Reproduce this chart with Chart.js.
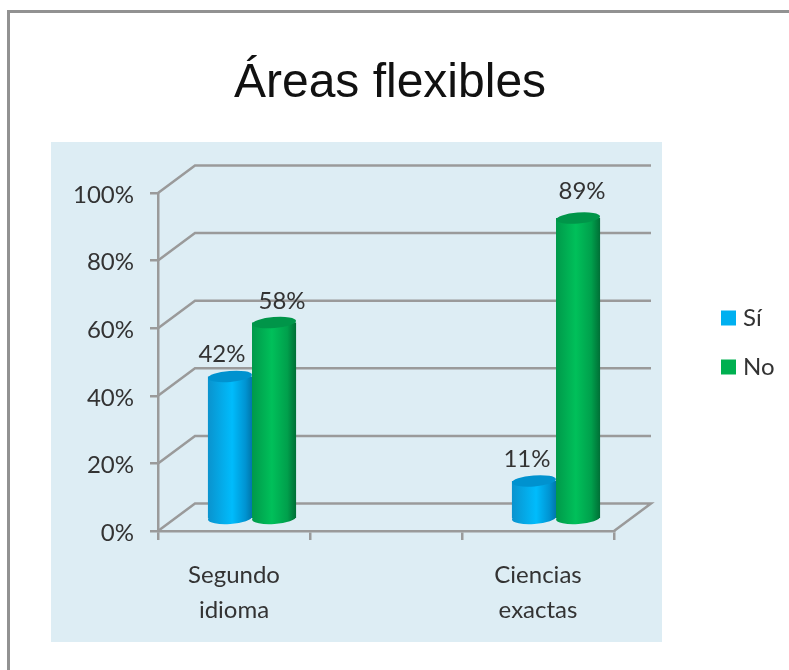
<!DOCTYPE html>
<html><head><meta charset="utf-8">
<script src="https://cdn.jsdelivr.net/npm/chart.js@4"></script>
<style>
html,body{margin:0;padding:0;background:#fff;overflow:hidden;width:789px;height:670px}
#frame{position:absolute;left:7px;top:10px;width:800px;height:680px;border:3px solid #929292;box-sizing:border-box}
canvas{position:absolute;left:0;top:0}
</style></head><body>
<div id="frame"></div>
<canvas id="c" width="780" height="670"></canvas>
<script>
const titleText = 'Áreas flexibles';
const categories = [['Segundo','idioma'],'',['Ciencias','exactas']];
const seriesNames = ['Sí','No'];
const siValues = [42, null, 11];
const noValues = [58, null, 89];
const yTickLabels = ['0%','20%','40%','60%','80%','100%'];

const legendColors = ['#00B0F0','#00B050'];
const sideStops = [
  [[0,'#0A93CE'],[0.55,'#00BCFC'],[0.85,'#0094D2'],[1,'#0077AB']],
  [[0,'#00994A'],[0.45,'#00C05A'],[0.8,'#00A04C'],[1,'#006F36']]
];
const capColors = ['#0092CF','#009549'];
const GRID = '#9A9A9A', TEXT = '#333333', FONT = 'Lato, "Open Sans", sans-serif';
const DEPTH_X = 37, DEPTH_Y = -27.5, BAR_SHIFT = 18;
const CAT_PCT = 0.58;
const labelNudge = [[[-8,-22],null,[-7,-22]],[[8,-21],null,[4,-27]]];

function barBox(chart, ds, i){
  const x = chart.scales.x;
  const cw = x.getPixelForValue(1) - x.getPixelForValue(0);
  const w = cw * CAT_PCT / 2;
  const c = x.getPixelForValue(i);
  return ds === 0 ? [c - w, c] : [c, c + w];
}
function sideFill(ctx){
  const ds = ctx.datasetIndex;
  const b = barBox(ctx.chart, ds, ctx.dataIndex || 0);
  if (!isFinite(b[0]) || !isFinite(b[1])) return legendColors[ds];
  const g = ctx.chart.ctx.createLinearGradient(b[0], 0, b[1], 0);
  sideStops[ds].forEach(s => g.addColorStop(s[0], s[1]));
  return g;
}
const scene = {
  id: 'scene',
  beforeDraw(chart){
    const c = chart.ctx;
    c.save();
    c.fillStyle = '#DDEDF4';
    c.fillRect(51, 142, 611, 500);
    c.restore();
  },
  beforeDatasetsDraw(chart){
    const c = chart.ctx, y = chart.scales.y, a = chart.chartArea;
    c.save();
    c.strokeStyle = GRID; c.lineWidth = 2.5;
    y.ticks.forEach(t => {
      const p = y.getPixelForValue(t.value);
      c.beginPath();
      c.moveTo(a.left, p);
      c.lineTo(a.left + DEPTH_X, p + DEPTH_Y);
      c.lineTo(a.right + DEPTH_X, p + DEPTH_Y);
      if (t.value === 0) c.lineTo(a.right, p);
      c.stroke();
    });
    c.restore();
  },
  beforeDatasetDraw(){ return false; },
  afterDatasetsDraw(chart){
    const c = chart.ctx;
    [0,1].forEach(ds => {
      const meta = chart.getDatasetMeta(ds);
      const vals = chart.data.datasets[ds].data;
      c.save();
      c.translate(BAR_SHIFT, 0);
      meta.data.forEach((el, i) => {
        if (vals[i] === null) return;
        const b = barBox(chart, ds, i), cx = (b[0]+b[1])/2, rx = (b[1]-b[0])/2;
        c.beginPath();
        c.ellipse(cx, el.base, rx, 6, -0.07, 0, Math.PI*2);
        c.fillStyle = sideFill({chart, datasetIndex: ds, dataIndex: i});
        c.fill();
      });
      meta.controller.draw();
      meta.data.forEach((el, i) => {
        if (vals[i] === null) return;
        const b = barBox(chart, ds, i), cx = (b[0]+b[1])/2, rx = (b[1]-b[0])/2;
        c.beginPath();
        c.ellipse(cx, el.y, rx, 5.5, -0.08, 0, Math.PI*2);
        c.fillStyle = capColors[ds];
        c.fill();
      });
      c.restore();
    });
    c.save();
    c.fillStyle = TEXT; c.font = '24px ' + FONT;
    c.textAlign = 'center'; c.textBaseline = 'middle';
    [0,1].forEach(ds => {
      const vals = chart.data.datasets[ds].data;
      chart.getDatasetMeta(ds).data.forEach((el, i) => {
        if (vals[i] === null) return;
        const b = barBox(chart, ds, i);
        c.fillText(vals[i] + '%', (b[0]+b[1])/2 + BAR_SHIFT + labelNudge[ds][i][0], el.y + labelNudge[ds][i][1]);
      });
    });
    c.restore();
  },
  afterLayout(chart){
    const l = chart.legend;
    const h = l.bottom - l.top;
    l.left = 701; l.right = 780;
    l.top = 281; l.bottom = 281 + h;
    const t = chart.titleBlock;
    t.left = 0; t.right = 780;
  }
};

new Chart(document.getElementById('c'), {
  type: 'bar',
  plugins: [scene],
  data: {
    labels: categories,
    datasets: [
      {label: seriesNames[0], data: siValues, yAxisID: 'y2', backgroundColor: sideFill, borderWidth: 0},
      {label: seriesNames[1], data: noValues, yAxisID: 'y2', backgroundColor: sideFill, borderWidth: 0}
    ]
  },
  options: {
    responsive: false,
    animation: false,
    events: [],
    categoryPercentage: CAT_PCT,
    barPercentage: 1,
    layout: {padding: {left: 0, right: 166, top: 0, bottom: 0}},
    plugins: {
      tooltip: {enabled: false},
      title: {
        display: true, text: titleText, color: '#111111',
        font: {family: '"Liberation Sans", Arial, sans-serif', size: 48, weight: 'normal', lineHeight: 1.2},
        padding: {top: 55, bottom: 80.4}
      },
      legend: {
        display: true, position: 'chartArea', align: 'start',
        labels: {
          color: TEXT, font: {family: FONT, size: 24},
          usePointStyle: true, pointStyle: 'rect', boxWidth: 5, boxHeight: 15, padding: 25,
          generateLabels(chart){
            return Chart.defaults.plugins.legend.labels.generateLabels(chart).map((it, i) =>
              Object.assign(it, {fillStyle: legendColors[i], strokeStyle: legendColors[i], lineWidth: 0, pointStyle: 'rect'}));
          }
        }
      }
    },
    scales: {
      x: {
        offset: true,
        grid: {display: true, drawOnChartArea: false, color: GRID, lineWidth: 2.5, tickLength: 9, offset: true},
        border: {color: GRID, width: 2.5},
        ticks: {color: TEXT, font: {family: FONT, size: 24, lineHeight: 1.45}, padding: 18, autoSkip: false, maxRotation: 0},
        afterFit(s){ s.height = 139; }
      },
      y: {
        min: 0, max: 100,
        grid: {display: true, drawOnChartArea: false, color: GRID, lineWidth: 2.5, tickLength: 8},
        border: {color: GRID, width: 2.5},
        ticks: {stepSize: 20, color: TEXT, font: {family: FONT, size: 24}, padding: 16, labelOffset: 2,
          callback(v){ return yTickLabels[v / 20]; }},
        afterFit(s){ s.width = 158; }
      },
      y2: {display: false, min: -3.86, max: 96.44}
    }
  }
});
</script>
</body></html>
